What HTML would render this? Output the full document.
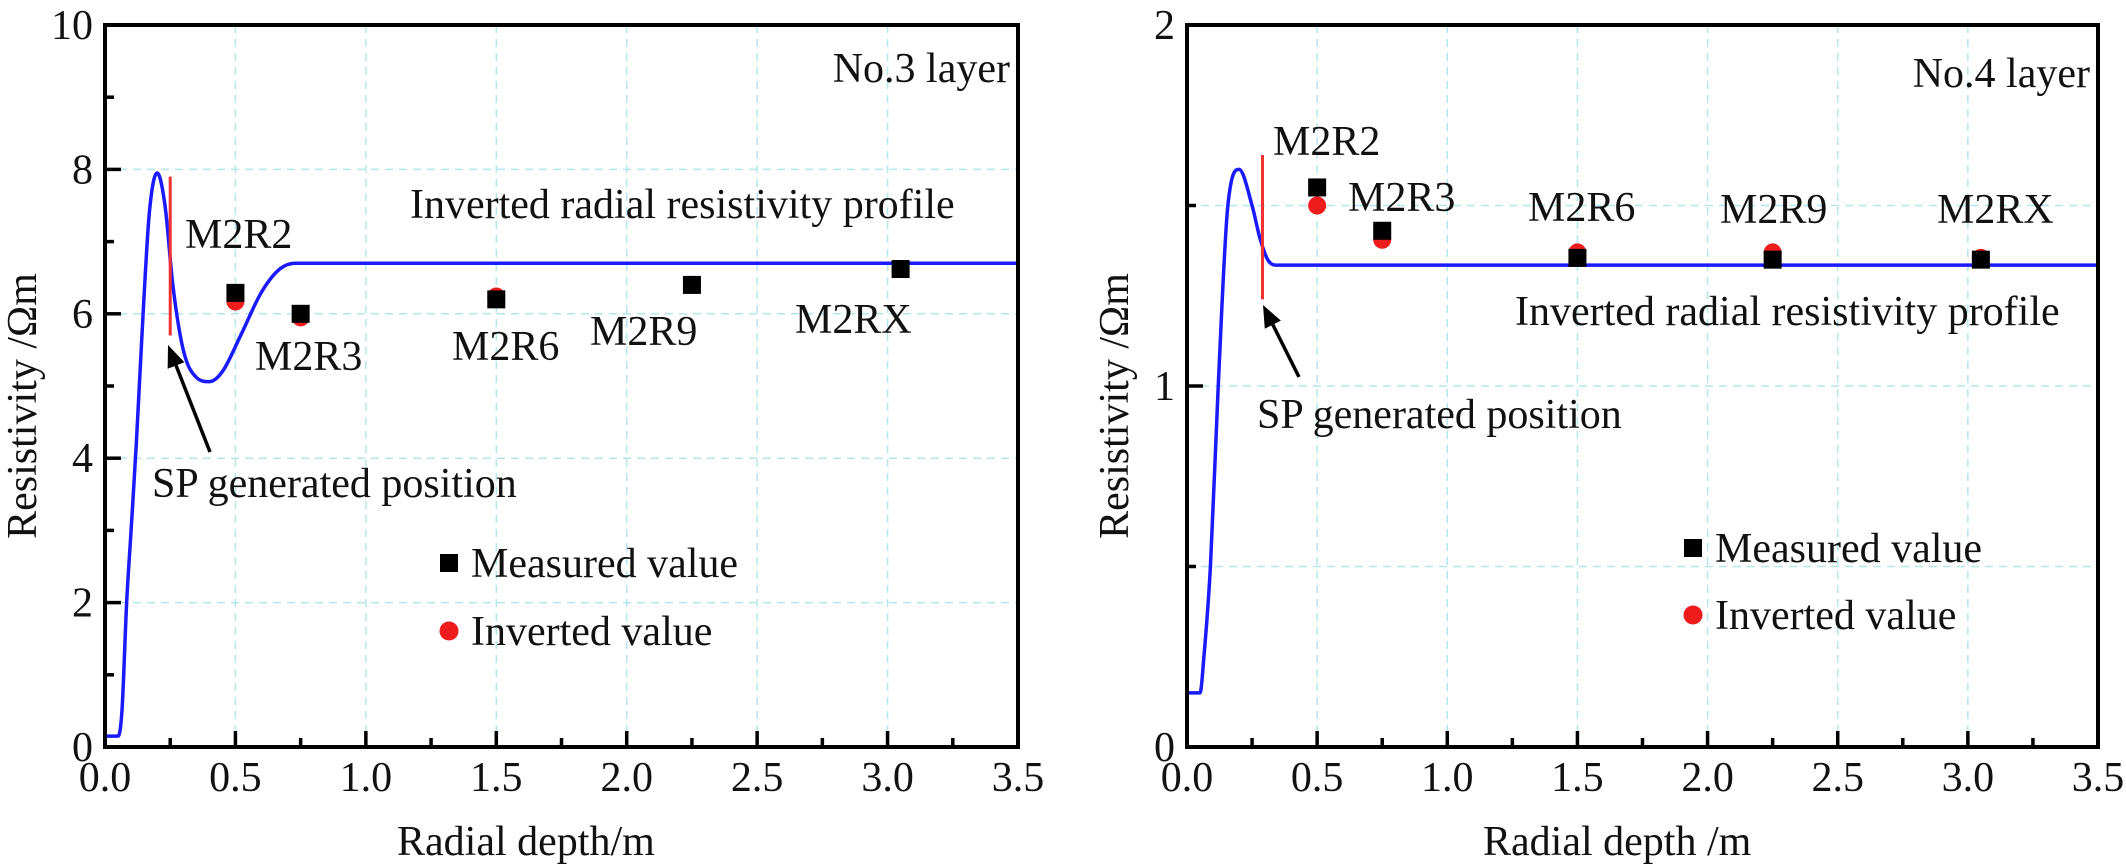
<!DOCTYPE html>
<html><head><meta charset="utf-8"><style>
html,body{margin:0;padding:0;background:#fff;}
svg{display:block;}
svg text{font-family:"Liberation Serif","DejaVu Serif",serif;}
</style></head><body>
<svg id="fig" width="2126" height="867" viewBox="0 0 2126 867" xmlns="http://www.w3.org/2000/svg" font-family="Liberation Serif, serif"></svg>
<script>
// ---- data ----
const xTicks = [0.0,0.5,1.0,1.5,2.0,2.5,3.0,3.5];
const xTickLabels = ["0.0","0.5","1.0","1.5","2.0","2.5","3.0","3.5"];
const wellNames = ["M2R2","M2R3","M2R6","M2R9","M2RX"];
const wellDepths = [0.5,0.75,1.5,2.25,3.05];
// layer 3
const l3YTicks = [0,2,4,6,8,10];
const l3YTickLabels = ["0","2","4","6","8","10"];
const l3Measured = [6.29,6.0,6.2,6.4,6.62];
const l3Inverted = [6.17,5.95,6.24,6.4,6.62];
const l3CurveX = [0,0.05,0.065,0.083,0.1,0.12,0.146,0.17,0.2,0.23,0.26,0.3,0.35,0.4,0.45,0.52,0.6,0.67,0.73,3.5];
const l3CurveY = [0.15,0.15,0.5,2,3,4.2,6,7.4,7.95,7.5,6.4,5.5,5.12,5.06,5.2,5.7,6.3,6.62,6.7,6.7];
const l3SP = [0.25,5.7,7.9];
// layer 4
const l4YTicks = [0,1,2];
const l4YTickLabels = ["0","1","2"];
const l4Measured = [1.55,1.43,1.355,1.35,1.35];
const l4Inverted = [1.50,1.405,1.37,1.37,1.355];
const l4CurveX = [0,0.05,0.065,0.09,0.12,0.157,0.2,0.25,0.28,0.31,0.34,3.5];
const l4CurveY = [0.15,0.15,0.25,0.5,1.0,1.5,1.6,1.5,1.41,1.35,1.335,1.335];
const l4SP = [0.29,1.24,1.64];

const NS="http://www.w3.org/2000/svg";
const svg=document.getElementById('fig');
function mk(tag,attrs,parent,text){const e=document.createElementNS(NS,tag);for(const k in attrs)e.setAttribute(k,attrs[k]);if(text!==undefined)e.textContent=text;(parent||svg).appendChild(e);return e;}

// monotone cubic (Fritsch-Carlson) in pixel space, x increasing
function smoothPath(pts){
  const n=pts.length,d=[],m=[];
  for(let i=0;i<n-1;i++)d.push((pts[i+1][1]-pts[i][1])/(pts[i+1][0]-pts[i][0]));
  m[0]=d[0];m[n-1]=d[n-2];
  for(let i=1;i<n-1;i++){m[i]=(d[i-1]*d[i]<=0)?0:(d[i-1]+d[i])/2;}
  for(let i=0;i<n-1;i++){
    if(d[i]===0){m[i]=0;m[i+1]=0;continue;}
    const a=m[i]/d[i],b=m[i+1]/d[i],s=a*a+b*b;
    if(s>9){const t=3/Math.sqrt(s);m[i]=t*a*d[i];m[i+1]=t*b*d[i];}
  }
  let p="M"+pts[0][0]+","+pts[0][1];
  for(let i=0;i<n-1;i++){
    const h=pts[i+1][0]-pts[i][0];
    p+=" C"+(pts[i][0]+h/3)+","+(pts[i][1]+m[i]*h/3)+" "+(pts[i+1][0]-h/3)+","+(pts[i+1][1]-m[i+1]*h/3)+" "+pts[i+1][0]+","+pts[i+1][1];
  }
  return p;
}

function panel(o){
  const g=mk('g',{});
  
  
  const X=v=>o.x0+(v/3.5)*(o.x1-o.x0);
  const Y=v=>o.y0-(v/o.ymax)*(o.y0-o.y1);
  xTicks.forEach(v=>{if(v>0&&v<3.5){const l=mk('line',{x1:X(v),x2:X(v),y1:o.y1,y2:o.y0,stroke:'#b4e6ee','stroke-width':1.5,'stroke-dasharray':'8,6'},g);
    }});
  for(let v=o.gridStep;v<o.ymax-1e-9;v+=o.gridStep){const l=mk('line',{x1:o.x0,x2:o.x1,y1:Y(v),y2:Y(v),stroke:'#b4e6ee','stroke-width':1.5,'stroke-dasharray':'8,6'},g);
    }
  const pts=o.cx.map((x,i)=>[X(x),Y(o.cy[i])]);
  const c=mk('path',{d:smoothPath(pts),fill:'none',stroke:'#1a1aff','stroke-width':3.5},g);
  
  const sp=mk('line',{x1:X(o.sp[0]),x2:X(o.sp[0]),y1:Y(o.sp[1]),y2:Y(o.sp[2]),stroke:'#f03030','stroke-width':3},g);
  
  wellDepths.forEach((d,i)=>{
    const ci=mk('circle',{cx:X(d),cy:Y(o.inv[i]),r:9,fill:'#ee1c1c'},g);
    
  });
  wellDepths.forEach((d,i)=>{
    const r=mk('rect',{x:X(d)-9,y:Y(o.meas[i])-9,width:18,height:18,fill:'#000'},g);
    
  });
  o.labels.forEach((p,i)=>{const t=mk('text',{x:p[0],y:p[1],'font-size':42,fill:'#111'},g,wellNames[i]);
    });
  const f=mk('rect',{x:o.x0,y:o.y1,width:o.x1-o.x0,height:o.y0-o.y1,fill:'none',stroke:'#000','stroke-width':4},g);
  
  for(let v=0.25;v<3.5;v+=0.25){const maj=Math.abs(v/0.5-Math.round(v/0.5))<1e-6;
    const tk=mk('line',{x1:X(v),x2:X(v),y1:o.y0,y2:o.y0-(maj?16:9),stroke:'#000','stroke-width':3.5},g);
    }
  xTicks.forEach((v,i)=>{const t=mk('text',{x:X(v),y:o.y0+44,'font-size':42,'text-anchor':'middle',fill:'#111'},g,xTickLabels[i]);
    });
  for(let v=o.minorStep;v<o.ymax;v+=o.minorStep){const maj=Math.abs(v/o.majorStep-Math.round(v/o.majorStep))<1e-6;
    const tk=mk('line',{x1:o.x0,x2:o.x0+(maj?16:9),y1:Y(v),y2:Y(v),stroke:'#000','stroke-width':3.5},g);
    }
  o.yt.forEach((v,i)=>{const t=mk('text',{x:o.x0-12,y:Y(v)+14,'font-size':42,'text-anchor':'end',fill:'#111'},g,o.ytl[i]);
    });
  const xt=mk('text',{x:o.xtx,y:855,'font-size':42,fill:'#111'},g,o.xtitle);
  
  const yt=mk('text',{x:0,y:0,'font-size':42,'text-anchor':'middle',fill:'#111',transform:'translate('+o.ytx+',406) rotate(-90)'},g,'Resistivity /Ωm');
  
  const ll=mk('text',{x:o.x1-8,y:o.layerY,'font-size':42,'text-anchor':'end',fill:'#111'},g,o.layer);
  
  const pl=mk('text',{x:o.profPos[0],y:o.profPos[1],'font-size':42,fill:'#111'},g,'Inverted radial resistivity profile');
  
  const spl=mk('text',{x:o.spText[0],y:o.spText[1],'font-size':42,fill:'#111'},g,'SP generated position');
  
  const a=o.arrow;const ang=Math.atan2(a[3]-a[1],a[2]-a[0]);
  const ar=mk('line',{x1:a[0],y1:a[1],x2:a[2]-Math.cos(ang)*14,y2:a[3]-Math.sin(ang)*14,stroke:'#000','stroke-width':3.5},g);
  
  const hl=22,hw=9;const bx=a[2]-Math.cos(ang)*hl,by=a[3]-Math.sin(ang)*hl;
  const ah=mk('polygon',{points:a[2]+','+a[3]+' '+(bx-Math.sin(ang)*hw)+','+(by+Math.cos(ang)*hw)+' '+(bx+Math.sin(ang)*hw)+','+(by-Math.cos(ang)*hw),fill:'#000'},g);
  
  const lg=mk('g',{},g);
  const lm=mk('rect',{x:o.leg[0]-9,y:o.leg[1]-9,width:18,height:18,fill:'#000'},lg);
  
  const lmt=mk('text',{x:o.leg[0]+22,y:o.leg[1]+14,'font-size':42,fill:'#111'},lg,'Measured value');
  
  const li=mk('circle',{cx:o.leg[0],cy:o.leg[1]+o.legGap,r:9.5,fill:'#ee1c1c'},lg);
  
  const lit=mk('text',{x:o.leg[0]+22,y:o.leg[1]+o.legGap+14,'font-size':42,fill:'#111'},lg,'Inverted value');
  
}

panel({name:'chart-no3-layer',x0:105,x1:1018,y0:747,y1:25,ymax:10,gridStep:2,majorStep:2,minorStep:1,
  yt:l3YTicks,ytl:l3YTickLabels,meas:l3Measured,inv:l3Inverted,cx:l3CurveX,cy:l3CurveY,sp:l3SP,
  labels:[[185,248],[255,370],[452,360],[590,345],[795,333]],
  xtitle:'Radial depth/m',xtx:397,ytx:36,layer:'No.3 layer',layerY:82,profPos:[410,218],
  spText:[152,497],arrow:[210,452,168,345],leg:[449,563],legGap:68});
panel({name:'chart-no4-layer',x0:1187,x1:2098,y0:747,y1:25,ymax:2,gridStep:0.5,majorStep:1,minorStep:0.5,
  yt:l4YTicks,ytl:l4YTickLabels,meas:l4Measured,inv:l4Inverted,cx:l4CurveX,cy:l4CurveY,sp:l4SP,
  labels:[[1273,155],[1348,211],[1528,221],[1720,223],[1937,223]],
  xtitle:'Radial depth /m',xtx:1483,ytx:1128,layer:'No.4  layer',layerY:87,profPos:[1515,325],
  spText:[1257,428],arrow:[1299,377,1263,305],leg:[1693,548],legGap:67});
</script>
</body></html>
